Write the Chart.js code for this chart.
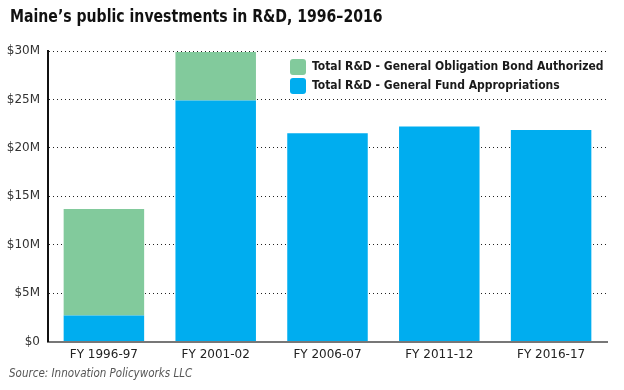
<!DOCTYPE html>
<html>
<head>
<meta charset="utf-8">
<script src="https://cdn.jsdelivr.net/npm/chart.js@4"></script>
<style>
  html, body { margin: 0; padding: 0; background: #fff; }
  #wrap { position: relative; width: 624px; height: 390px; }
  #title { position: absolute; left: 10px; top: 6px; font: bold 17px "DejaVu Sans Condensed", "DejaVu Sans", sans-serif; color: #111; white-space: nowrap; transform: scaleX(0.92); transform-origin: left top; }
  #source { position: absolute; left: 9px; top: 366px; font: italic 11.5px "DejaVu Sans Condensed", "DejaVu Sans", sans-serif; color: #555; white-space: nowrap; }
  canvas { position: absolute; left: 0; top: 0; }
</style>
</head>
<body>
<div id="wrap">
  <canvas id="mycanvas" width="624" height="390"></canvas>
  <div id="title">Maine’s public investments in R&amp;D, 1996–2016</div>
  <div id="source">Source: Innovation Policyworks LLC</div>
</div>
<script>
// data, millions of dollars
var years = ['FY 1996-97', 'FY 2001-02', 'FY 2006-07', 'FY 2011-12', 'FY 2016-17'];
var fundApprop = [2.7, 24.9, 21.5, 22.2, 21.85];
var bondAuth = [11.0, 5.0, 0, 0, 0];
var yTicks = [0, 5, 10, 15, 20, 25, 30];

var GREEN = '#82ca9c';
var BLUE = '#00adef';

// legend drawn in the upper right of the plot
var legendBox = {
  id: 'legendBox',
  afterDraw: function (chart) {
    var ctx = chart.ctx;
    var area = chart.chartArea;
    var items = [
      { label: 'Total R&D - General Obligation Bond Authorized', color: GREEN },
      { label: 'Total R&D - General Fund Appropriations', color: BLUE }
    ];
    ctx.save();
    ctx.font = 'bold 12px "DejaVu Sans Condensed", "DejaVu Sans", sans-serif';
    ctx.textBaseline = 'middle';
    for (var i = 0; i < items.length; i++) {
      var x = area.left + 242;
      var y = area.top + 8 + i * 19;
      ctx.fillStyle = items[i].color;
      ctx.beginPath();
      ctx.roundRect(x, y, 16, 16, 3);
      ctx.fill();
      ctx.fillStyle = '#1a1a1a';
      ctx.fillText(items[i].label, x + 22, y + 8);
    }
    ctx.restore();
  }
};

var ctx1 = document.getElementById('mycanvas');
var barGraph = new Chart(ctx1, {
  type: 'bar',
  data: {
    labels: years,
    datasets: [
      { label: 'Total R&D - General Fund Appropriations', data: fundApprop, backgroundColor: BLUE },
      { label: 'Total R&D - General Obligation Bond Authorized', data: bondAuth, backgroundColor: GREEN }
    ]
  },
  options: {
    responsive: false,
    animation: false,
    layout: { padding: { top: 51, right: 17, bottom: 22, left: 0 } },
    plugins: {
      legend: { display: false },
      tooltip: { enabled: false }
    },
    datasets: { bar: { barPercentage: 0.72, categoryPercentage: 1 } },
    scales: {
      x: {
        stacked: true,
        grid: { display: false, drawTicks: false },
        border: { display: true, color: '#777', width: 2 },
        ticks: { color: '#222', font: { family: '"DejaVu Sans", sans-serif', size: 12 }, padding: 6 }
      },
      y: {
        stacked: true,
        min: 0,
        max: 30,
        afterFit: function (scale) { scale.width = 48; },
        afterBuildTicks: function (scale) {
          scale.ticks = yTicks.map(function (v) { return { value: v }; });
        },
        grid: {
          drawTicks: false,
          color: function (c) { return c.tick && c.tick.value === 0 ? 'rgba(0,0,0,0)' : '#222'; },
          lineWidth: 1
        },
        border: { display: true, color: '#111', width: 2, dash: [1, 3] },
        ticks: {
          color: '#333',
          padding: 8,
          font: { family: '"DejaVu Sans", sans-serif', size: 12 },
          callback: function (v) { return v === 0 ? '$0' : '$' + v + 'M'; }
        }
      }
    }
  },
  plugins: [legendBox]
});
</script>
</body>
</html>
